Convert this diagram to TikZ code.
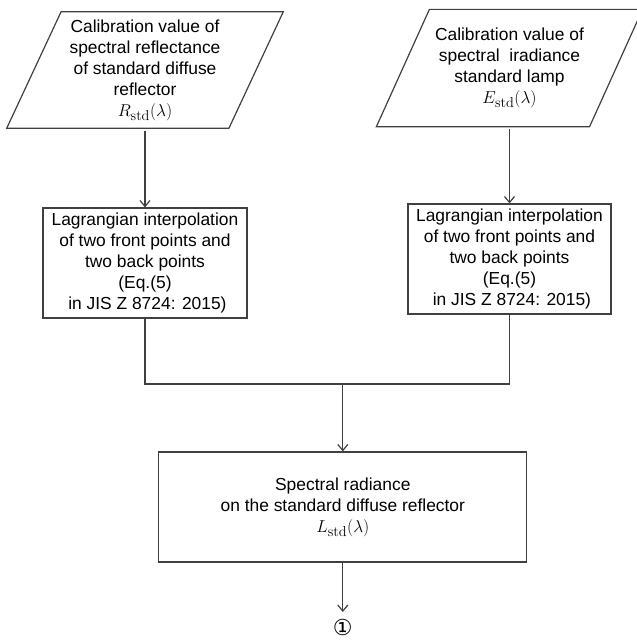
\documentclass[tikz,border=0pt]{standalone}
\usepackage{amsmath}
\usepackage[no-math]{fontspec}
\setmainfont{Liberation Sans}
\newfontfamily\circfont{DejaVu Sans}
\usetikzlibrary{arrows.meta}

\newcommand{\stdsym}[1]{{\fontsize{19}{21}\selectfont$#1_{\mathrm{std}}(\lambda)$}}

\begin{document}
\begin{tikzpicture}[x=1pt,y=-1pt,line width=1.2pt,color=black!75,
  >={Straight Barb[length=6pt,width=10pt]},
  every node/.style={text=black,font=\fontsize{17.4}{21}\selectfont,align=center,inner sep=0pt},
  lagbox/.style={draw,minimum width=204pt,minimum height=110pt}]
\clip (0,0) rectangle (637,640);
% input data
\node[minimum width=221pt,minimum height=118.4pt] (calR) at (145,70) {Calibration value of\\spectral reflectance\\of standard diffuse\\reflector\\\stdsym{R}};
\draw ([shift={(-27.2pt,1.5pt)}]calR.south west) -- ([shift={(-27.2pt,1.5pt)}]calR.south east) -- ([shift={(27.2pt,-1.5pt)}]calR.north east) -- ([shift={(27.2pt,-1.5pt)}]calR.north west) -- cycle;
\node[minimum width=212pt,minimum height=118.7pt] (calE) at (509.5,68) {Calibration value of\\spectral~ iradiance\\standard lamp\\\stdsym{E}};
\draw ([shift={(-26.5pt,1.3pt)}]calE.south west) -- ([shift={(-26.5pt,1.3pt)}]calE.south east) -- ([shift={(26.5pt,-1.3pt)}]calE.north east) -- ([shift={(26.5pt,-1.3pt)}]calE.north west) -- cycle;
% interpolation
\node[lagbox] (lagR) at (145,263) {Lagrangian interpolation\\of two front points and\\two back points\\(Eq.(5)\\~in JIS Z 8724: 2015)};
\node[lagbox,minimum width=203pt] (lagE) at (509.5,259) {Lagrangian interpolation\\of two front points and\\two back points\\(Eq.(5)\\~in JIS Z 8724: 2015)};
\coordinate (join) at (342.8,384);
% result
\node[draw,minimum width=368pt,minimum height=110pt] (rad) at (342.8,507) {Spectral radiance\\on the standard diffuse reflector\\\stdsym{L}};
\node[font=\circfont\fontsize{22}{22}\selectfont] (next) at (342.8,627) {①};

\draw[->] (calR.south) ++(0,1.5) -- (lagR.north);
\draw[->] (calE.south) ++(0,1.3) -- (lagE.north);
\draw (lagR.south) |- (join) -| (lagE.south);
\draw[->] (join) -- (rad.north);
\draw[->] (rad.south) -- ([yshift=15pt]next.center);

\end{tikzpicture}
\end{document}
